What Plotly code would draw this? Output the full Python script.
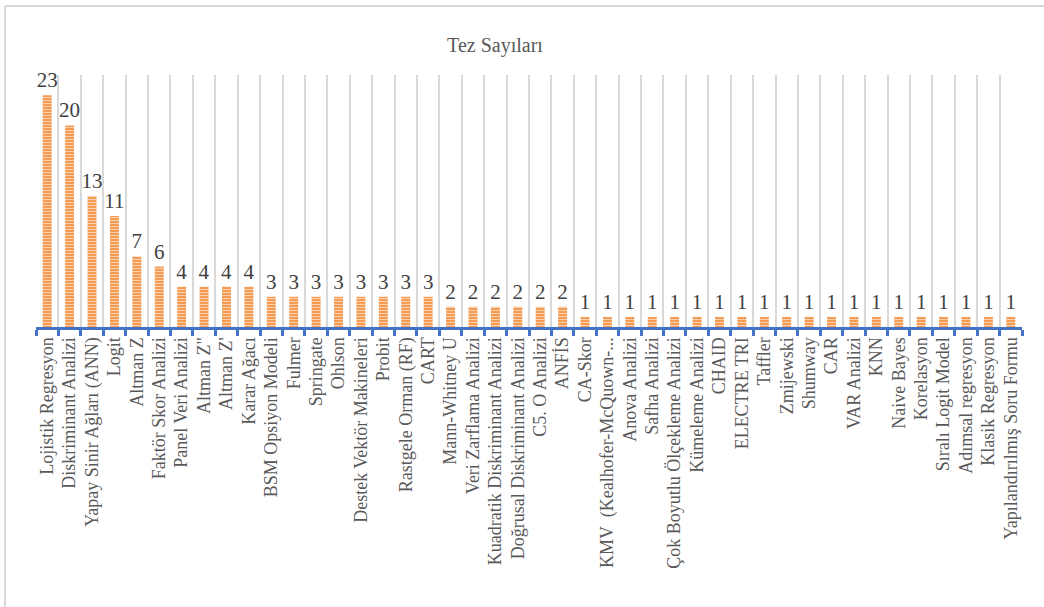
import plotly.graph_objects as go

categories = [
    "Lojistik Regresyon", "Diskriminant Analizi", "Yapay Sinir Ağları (ANN)", "Logit",
    "Altman Z", "Faktör Skor Analizi", "Panel Veri Analizi", "Altman Z\"", "Altman Z'",
    "Karar Ağacı", "BSM Opsiyon Modeli", "Fulmer", "Springate", "Ohlson",
    "Destek Vektör Makineleri", "Probit", "Rastgele Orman (RF)", "CART",
    "Mann-Whitney U", "Veri Zarflama Analizi", "Kuadratik Diskriminant Analizi",
    "Doğrusal Diskriminant Analizi", "C5. O Analizi", "ANFİS", "CA-Skor",
    "KMV  (Kealhofer-McQuown-...", "Anova Analizi", "Safha Analizi",
    "Çok Boyutlu Ölçekleme Analizi", "Kümeleme Analizi", "CHAID", "ELECTRE TRI",
    "Taffler", "Zmijewski", "Shumway", "CAR", "VAR Analizi", "KNN", "Naive Bayes",
    "Korelasyon", "Sıralı Logit Model", "Adımsal regresyon", "Klasik Regresyon",
    "Yapılandırılmış Soru Formu",
]
values = [23, 20, 13, 11, 7, 6, 4, 4, 4, 4,
          3, 3, 3, 3, 3, 3, 3, 3,
          2, 2, 2, 2, 2, 2,
          1, 1, 1, 1, 1, 1, 1, 1, 1, 1, 1, 1, 1, 1, 1, 1, 1, 1, 1, 1]
title_text = "Tez Sayıları"

W, H = 1044, 607
ML, MR, MT, MB = 36, 22, 75, 280
pw = W - ML - MR
ph = H - MT - MB

def px_x(p):
    return (p - ML) / pw

def px_y(p):
    return (H - MB - p) / ph

FONT = "Liberation Serif, Times New Roman, serif"

fig = go.Figure(go.Bar(
    x=categories,
    y=values,
    width=0.4,
    text=[str(v) for v in values],
    textposition="outside",
    constraintext="none",
    textfont=dict(family=FONT, size=21, color="#404040"),
    cliponaxis=False,
    marker=dict(
        color="#F4954A",
        line=dict(width=0),
        pattern=dict(shape="-", bgcolor="#F4954A", fgcolor="#F9CFAE",
                     size=3, solidity=0.4, fillmode="replace"),
    ),
    hoverinfo="skip",
))

fig.update_layout(
    width=W, height=H,
    margin=dict(l=ML, r=MR, t=MT, b=MB, pad=0),
    paper_bgcolor="white",
    plot_bgcolor="white",
    showlegend=False,
    title=dict(text=title_text, x=495 / W, xref="container", xanchor="center",
               y=1 - 45 / H, yref="container", yanchor="middle",
               font=dict(family=FONT, size=20, color="#595959")),
    font=dict(family=FONT, color="#595959"),
    bargap=0.6,
)

fig.update_xaxes(
    type="category",
    tickson="boundaries",
    showgrid=True, gridcolor="#D9D9D9", gridwidth=1.5,
    showline=True, linecolor="#4472C4", linewidth=3,
    ticks="outside", ticklen=6, tickwidth=3, tickcolor="#4472C4",
    tickangle=-90,
    tickfont=dict(family=FONT, size=18, color="#595959"),
    fixedrange=True,
)
fig.update_yaxes(
    range=[0, 25],
    showgrid=False, showticklabels=False, zeroline=False, showline=False,
    ticks="",
    fixedrange=True,
)

# outer chart border (top and left visible)
fig.add_shape(type="line", xref="paper", yref="paper",
              x0=px_x(5), x1=px_x(W + 5), y0=px_y(6), y1=px_y(6),
              line=dict(color="#D9D9D9", width=2))
fig.add_shape(type="line", xref="paper", yref="paper",
              x0=px_x(5), x1=px_x(5), y0=px_y(6), y1=px_y(H + 5),
              line=dict(color="#D9D9D9", width=2))

fig.write_html("out.html", config={"displayModeBar": False})
